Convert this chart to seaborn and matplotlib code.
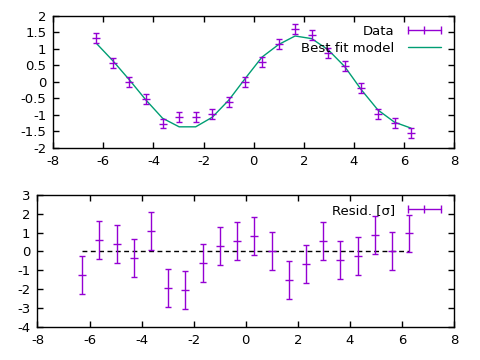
import numpy as np
import pandas as pd
import matplotlib
matplotlib.use("Agg")
import matplotlib.pyplot as plt
from matplotlib.ticker import FuncFormatter
import seaborn as sns

# values
x_vals = [-6.283, -5.622, -4.960, -4.299, -3.638, -2.976, -2.315, -1.653, -0.992, -0.331,
          0.331, 0.992, 1.653, 2.315, 2.976, 3.638, 4.299, 4.960, 5.622, 6.283]
data_y = [1.32, 0.57, 0.00, -0.52, -1.26, -1.07, -1.05, -0.97, -0.61, 0.00,
          0.59, 1.16, 1.60, 1.42, 0.87, 0.48, -0.18, -0.96, -1.24, -1.55]
data_err = [0.15] * 20
model_y = [1.17, 0.64, 0.06, -0.55, -1.10, -1.36, -1.36, -1.07, -0.55, 0.11,
           0.75, 1.13, 1.39, 1.31, 0.97, 0.46, -0.24, -0.85, -1.22, -1.40]
resid = [-1.26, 0.60, 0.38, -0.36, 1.07, -1.95, -2.06, -0.62, 0.28, 0.56,
         0.81, 0.01, -1.51, -0.68, 0.54, -0.45, -0.25, 0.86, 0.01, 0.95]
resid_err = [1.0] * 20
zero_line = [0.0] * 20

xticks = [-8, -6, -4, -2, 0, 2, 4, 6, 8]
yticks_top = [-2, -1.5, -1, -0.5, 0, 0.5, 1, 1.5, 2]
yticks_bot = [-4, -3, -2, -1, 0, 1, 2, 3]

df = pd.DataFrame({"x": x_vals, "data": data_y, "err": data_err, "model": model_y,
                   "resid": resid, "rerr": resid_err, "zero": zero_line})

sns.set_style("ticks", {"xtick.direction": "in", "ytick.direction": "in",
                        "axes.edgecolor": "black", "xtick.color": "black",
                        "ytick.color": "black", "text.color": "black"})
plt.rcParams["font.family"] = ["DejaVu Sans"]
plt.rcParams["font.size"] = 9

purple = "#9400d3"
green = "#009e73"
fmt = FuncFormatter(lambda v, p: "%g" % v)

fig = plt.figure(figsize=(4.8, 3.6), dpi=100)
ax1 = fig.add_axes([0.111, 0.589, 0.835, 0.367])
ax2 = fig.add_axes([0.078, 0.092, 0.868, 0.367])

# top panel
sns.lineplot(data=df, x="x", y="model", ax=ax1, color=green, lw=1, sort=False,
             estimator=None, legend=False)
h_model = ax1.lines[-1]
ax1.errorbar(df["x"], df["data"], yerr=df["err"], fmt="none", ecolor=purple,
             elinewidth=1, capsize=2.5, capthick=1)
ax1.plot(df["x"], df["data"], color=purple, lw=0, marker="_", ms=6, mew=1)
h_data, = ax1.plot([], [], color=purple, lw=1, marker="|", ms=6, mew=1)
ax1.legend([h_data, h_model], ["Data", "Best fit model"], loc="upper right",
           frameon=False, markerfirst=False, numpoints=3, handlelength=3.1,
           handletextpad=0.7, labelspacing=0.3, borderaxespad=0.3, fontsize=9.5)
ax1.set_xlim(-8, 8)
ax1.set_ylim(-2, 2)
ax1.set_xticks(xticks)
ax1.set_yticks(yticks_top)

# bottom panel
sns.lineplot(data=df, x="x", y="zero", ax=ax2, color="black", lw=1, sort=False,
             estimator=None, legend=False)
ax2.lines[-1].set_dashes((3.5, 2.5))
ax2.errorbar(df["x"], df["resid"], yerr=df["rerr"], fmt="none", ecolor=purple,
             elinewidth=1, capsize=2.5, capthick=1)
ax2.plot(df["x"], df["resid"], color=purple, lw=0, marker="_", ms=6, mew=1)
h_res, = ax2.plot([], [], color=purple, lw=1, marker="|", ms=6, mew=1)
ax2.legend([h_res], ["Resid. [σ]"], loc="upper right", frameon=False,
           markerfirst=False, numpoints=3, handlelength=3.1, handletextpad=0.7,
           borderaxespad=0.3, fontsize=9.5)
ax2.set_xlim(-8, 8)
ax2.set_ylim(-4, 3)
ax2.set_xticks(xticks)
ax2.set_yticks(yticks_bot)

for ax in (ax1, ax2):
    ax.xaxis.set_major_formatter(fmt)
    ax.yaxis.set_major_formatter(fmt)
    ax.set_xlabel("")
    ax.set_ylabel("")
    ax.tick_params(top=True, right=True, length=4, width=1, labelsize=9.5, pad=5)
    for s in ax.spines.values():
        s.set_linewidth(1)
        s.set_visible(True)

fig.savefig("out.png", dpi=100)
